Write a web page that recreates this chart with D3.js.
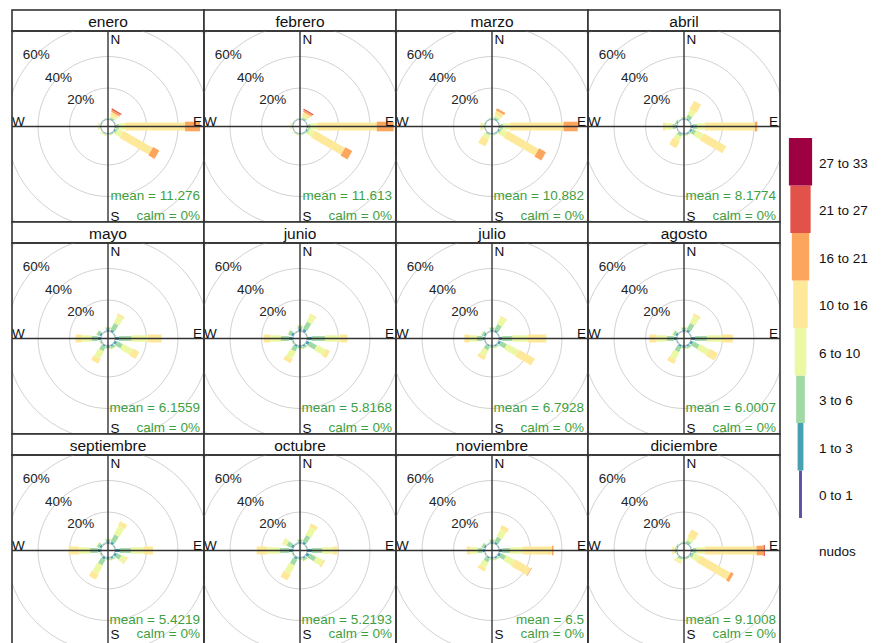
<!DOCTYPE html>
<html>
<head>
<meta charset="utf-8">
<script src="https://cdn.jsdelivr.net/npm/d3@7"></script>
<style>
  body { margin: 0; background: #fff; }
  svg { display: block; font-family: "Liberation Sans", Arial, sans-serif; }
</style>
</head>
<body>
<svg id="chart" width="881" height="643"></svg>
<script>
// Monthly wind roses: frequency (%) of wind per direction and speed interval (knots)
const months = ["enero", "febrero", "marzo", "abril", "mayo", "junio",
                "julio", "agosto", "septiembre", "octubre", "noviembre", "diciembre"];
const directions = [0, 30, 60, 90, 120, 150, 180, 210, 240, 270, 300, 330];
const speedBins = ["0 to 1", "1 to 3", "3 to 6", "6 to 10", "10 to 16", "16 to 21", "21 to 27", "27 to 33"];
const speedUnit = "nudos";
const meanSpeed = ["11.276", "11.613", "10.882", "8.1774", "6.1559", "5.8168",
                   "6.7928", "6.0007", "5.4219", "5.2193", "6.5", "9.1008"];
const calmPct = [0, 0, 0, 0, 0, 0, 0, 0, 0, 0, 0, 0];
const ringTicks = [20, 40, 60, 80];
const ringLabels = [20, 40, 60];
const compass = ["N", "E", "S", "W"];

// one row per direction (0°, 30°, ... 330°), one value per speed interval
const enero = [
  [0.1, 0.3, 0.3, 0.2], [0.1, 0.5, 0.9, 1.2, 2.0, 1.3, 0.8], [0.1, 0.3, 0.2],
  [0.1, 0.9, 1.5, 4.0, 38.0, 9.5], [0.1, 0.6, 1.2, 3.5, 21.5, 4.5], [0.1, 0.4, 0.5, 0.3],
  [0.1, 0.3, 0.2], [0.1, 0.3, 0.4, 0.5, 0.3], [0.1, 0.2, 0.2],
  [0.1, 0.3, 0.5, 0.8, 0.3], [0.1, 0.3, 0.2], [0.1, 0.3, 0.3]
];
const febrero = [
  [0.1, 0.3, 0.3, 0.2], [0.1, 0.5, 0.9, 1.1, 2.0, 1.2, 0.8], [0.1, 0.2, 0.2],
  [0.1, 0.8, 1.4, 4.0, 38.0, 10.7], [0.1, 0.6, 1.1, 3.3, 22.0, 5.0], [0.1, 0.4, 0.4, 0.2],
  [0.1, 0.3, 0.2], [0.1, 0.3, 0.4, 0.4, 0.2], [0.1, 0.2, 0.1],
  [0.1, 0.3, 0.4, 0.6, 0.2], [0.1, 0.3, 0.2], [0.1, 0.3, 0.3]
];
const marzo = [
  [0.1, 0.4, 0.4, 0.2], [0.1, 0.6, 1.0, 1.5, 2.5, 1.5], [0.1, 0.3, 0.2],
  [0.1, 0.9, 1.5, 4.5, 34.0, 9.0], [0.1, 0.6, 1.2, 3.5, 23.0, 5.0], [0.1, 0.4, 0.5, 0.3],
  [0.1, 0.3, 0.3, 0.1], [0.1, 0.4, 0.8, 2.5, 5.0], [0.1, 0.2, 0.2],
  [0.1, 0.3, 0.5, 1.0, 1.0], [0.1, 0.3, 0.2], [0.1, 0.3, 0.3]
];
const abril = [
  [0.1, 0.6, 0.6, 0.3], [0.1, 0.8, 2.5, 3.5, 6.0], [0.1, 0.3, 0.2],
  [0.1, 1.2, 2.5, 5.0, 31.8, 1.5], [0.1, 1.0, 2.5, 5.0, 16.5], [0.1, 0.6, 0.6, 0.3],
  [0.1, 0.5, 0.5, 0.2], [0.1, 0.5, 1.5, 3.0, 5.0], [0.1, 0.2, 0.2],
  [0.1, 0.8, 2.0, 4.5, 1.5], [0.1, 0.6, 0.8, 0.2], [0.1, 0.3, 0.3]
];
const mayo = [
  [0.1, 1.2, 1.3, 0.4], [0.1, 1.5, 4.5, 5.0, 1.5], [0.1, 0.3, 0.3],
  [0.1, 2.5, 8.0, 10.0, 9.0], [0.1, 1.5, 4.0, 7.0, 4.5], [0.1, 1.0, 1.2, 0.5],
  [0.1, 0.8, 0.8, 0.3], [0.1, 1.0, 3.0, 5.0, 3.5], [0.1, 0.4, 0.5, 0.2],
  [0.1, 2.0, 4.0, 6.0, 4.0], [0.1, 1.2, 1.8, 0.4], [0.1, 0.3, 0.3]
];
const junio = [
  [0.1, 1.5, 1.8, 0.6], [0.1, 2.0, 5.0, 4.5, 1.0], [0.1, 0.3, 0.3],
  [0.1, 3.0, 8.5, 9.5, 4.5], [0.1, 2.0, 5.0, 6.0, 3.0], [0.1, 0.9, 1.1, 0.4],
  [0.1, 0.8, 1.0, 0.4], [0.1, 1.2, 3.0, 5.0, 3.0], [0.1, 0.4, 0.5, 0.2],
  [0.1, 2.5, 5.0, 7.0, 4.0], [0.1, 1.5, 1.8, 0.5], [0.1, 0.3, 0.3]
];
const julio = [
  [0.1, 1.0, 1.3, 0.4], [0.1, 1.2, 4.0, 4.5, 1.0], [0.1, 0.3, 0.2],
  [0.1, 2.0, 6.5, 9.5, 12.0], [0.1, 1.5, 4.0, 8.5, 11.5], [0.1, 0.7, 0.8, 0.3],
  [0.1, 0.6, 0.7, 0.3], [0.1, 0.8, 2.5, 4.0, 2.5], [0.1, 0.3, 0.3],
  [0.1, 1.5, 3.5, 5.0, 3.0], [0.1, 1.0, 1.3, 0.4], [0.1, 0.3, 0.2]
];
const agosto = [
  [0.1, 1.0, 1.4, 0.5], [0.1, 1.5, 4.5, 5.0, 1.5], [0.1, 0.3, 0.2],
  [0.1, 2.5, 7.5, 9.0, 7.5], [0.1, 1.5, 4.5, 7.0, 6.0], [0.1, 1.0, 1.1, 0.4],
  [0.1, 0.8, 0.9, 0.3], [0.1, 1.2, 3.5, 5.0, 3.0], [0.1, 0.3, 0.4],
  [0.1, 2.0, 4.5, 6.5, 4.5], [0.1, 1.2, 1.6, 0.5], [0.1, 0.3, 0.2]
];
const septiembre = [
  [0.1, 1.3, 1.3, 0.4], [0.1, 1.5, 5.0, 6.0, 3.0], [0.1, 0.3, 0.3],
  [0.1, 3.0, 7.0, 8.0, 6.0], [0.1, 1.5, 3.0, 3.0, 1.0], [0.1, 0.9, 0.9, 0.3],
  [0.1, 0.7, 0.6, 0.2], [0.1, 1.5, 4.0, 6.0, 4.0], [0.1, 0.4, 0.5, 0.2],
  [0.1, 2.0, 5.0, 7.0, 6.5], [0.1, 1.2, 1.5, 0.5], [0.1, 0.4, 0.4]
];
const octubre = [
  [0.1, 1.2, 1.2, 0.4], [0.1, 1.5, 4.5, 5.5, 2.5], [0.1, 0.3, 0.3],
  [0.1, 3.0, 6.5, 6.5, 3.5], [0.1, 2.0, 4.5, 4.5, 1.5], [0.1, 1.0, 1.2, 0.5],
  [0.1, 0.6, 0.6, 0.2], [0.1, 1.5, 4.0, 6.0, 4.5], [0.1, 0.4, 0.5, 0.2],
  [0.1, 2.5, 6.0, 8.0, 6.5], [0.1, 1.5, 3.0, 2.5, 0.5], [0.1, 0.4, 0.4]
];
const noviembre = [
  [0.1, 1.0, 1.2, 0.4], [0.1, 1.2, 3.5, 5.0, 3.0], [0.1, 0.3, 0.2],
  [0.1, 2.0, 5.0, 8.0, 18.5, 1.0], [0.1, 1.5, 3.5, 6.0, 11.5, 0.5], [0.1, 0.8, 0.8, 0.3],
  [0.1, 0.6, 0.6, 0.2], [0.1, 0.8, 2.5, 4.0, 2.0], [0.1, 0.3, 0.3],
  [0.1, 1.5, 3.0, 4.5, 2.5], [0.1, 1.0, 1.3, 0.4], [0.1, 0.3, 0.3]
];
const diciembre = [
  [0.1, 0.4, 0.5, 0.2], [0.1, 0.5, 1.5, 2.5, 5.0], [0.1, 0.3, 0.2],
  [0.1, 1.0, 2.5, 5.0, 33.0, 4.5, 0.8], [0.1, 0.6, 1.5, 4.0, 22.0, 2.0], [0.1, 0.5, 0.5, 0.2],
  [0.1, 0.4, 0.4, 0.2], [0.1, 0.4, 1.0, 1.5, 1.0], [0.1, 0.3, 0.2],
  [0.1, 0.4, 0.8, 1.2, 0.5], [0.1, 0.5, 0.5, 0.2], [0.1, 0.3, 0.3]
];
const freqByMonth = [enero, febrero, marzo, abril, mayo, junio,
                     julio, agosto, septiembre, octubre, noviembre, diciembre];

// ---- layout ----
const width = 881, height = 643;
const svg = d3.select("#chart");
const cols = 4, originX = 12, originY = 10;
const panelW = 192, stripH = 21, plotH = 191, panelH = stripH + plotH;
const frameCol = "#333";
const statCol = "#3f9f3f";

// radial scale: 0 % starts at the calm circle
const rScale = d3.scaleLinear().domain([0, 60]).range([7, 101.5]);
const spectral = ["#5E4FA2", "#3288BD", "#66C2A5", "#ABDDA4", "#E6F598", "#FFFFBF",
                  "#FEE08B", "#FDAE61", "#F46D43", "#D53E4F", "#9E0142"];
const colour = d3.scaleOrdinal()
  .domain(d3.range(speedBins.length))
  .range(d3.quantize(d3.piecewise(d3.interpolateRgb, spectral), speedBins.length));
const paddleW = d3.scaleLinear().domain([0, 7]).range([1.6, 12.8]);
const rad = d3.scaleLinear().domain([0, 360]).range([0, 2 * Math.PI]);

const stack = d3.stack()
  .keys(d3.range(speedBins.length))
  .value((row, k) => row[k] || 0);

function paddlePath(dirDeg, p0, p1, w) {
  const a = rad(dirDeg), s = Math.sin(a), c = Math.cos(a);
  const r0 = rScale(p0), r1 = rScale(p1), h = w / 2;
  const path = d3.path();
  path.moveTo(r0 * s - h * c, -r0 * c - h * s);
  path.lineTo(r1 * s - h * c, -r1 * c - h * s);
  path.lineTo(r1 * s + h * c, -r1 * c + h * s);
  path.lineTo(r0 * s + h * c, -r0 * c + h * s);
  path.closePath();
  return path.toString();
}

const defs = svg.append("defs");

months.forEach((name, m) => {
  const px = originX + (m % cols) * panelW;
  const py = originY + Math.floor(m / cols) * panelH;
  const g = svg.append("g").attr("transform", `translate(${px},${py})`);
  // lowest visible line of the panel (the last row runs to the page edge)
  const bottom = Math.min(stripH + plotH, height - 3 - py);

  // strip
  g.append("rect").attr("width", panelW).attr("height", stripH)
    .attr("fill", "#fff").attr("stroke", frameCol).attr("stroke-width", 1.6);
  g.append("text").attr("x", panelW / 2).attr("y", stripH / 2 + 1)
    .attr("text-anchor", "middle").attr("dominant-baseline", "central")
    .attr("font-size", 15.5).attr("fill", "#111").text(name);

  const clipId = "clip-" + m;
  defs.append("clipPath").attr("id", clipId)
    .append("rect").attr("x", 0).attr("y", stripH).attr("width", panelW).attr("height", plotH);

  const cx = panelW / 2, cy = stripH + plotH / 2;
  const plot = g.append("g").attr("clip-path", `url(#${clipId})`);
  const rose = plot.append("g").attr("transform", `translate(${cx},${cy})`);

  // grid rings
  rose.selectAll("circle.ring").data(ringTicks).join("circle")
    .attr("class", "ring").attr("r", d => rScale(d))
    .attr("fill", "none").attr("stroke", "#d2d2d2").attr("stroke-width", 1);
  rose.append("circle").attr("r", rScale(0))
    .attr("fill", "none").attr("stroke", "#c4c4c4").attr("stroke-width", 1);

  // paddles, stacked by speed interval
  const series = stack(freqByMonth[m]);
  series.forEach((s, k) => {
    rose.append("g").selectAll("path")
      .data(s.map((d, j) => ({ dir: directions[j], p0: d[0], p1: d[1] }))
        .filter(d => d.p1 - d.p0 > 0))
      .join("path")
      .attr("d", d => paddlePath(d.dir, d.p0, d.p1, paddleW(k)))
      .attr("fill", colour(k));
  });

  // axes through the centre
  plot.append("line").attr("x1", 0).attr("x2", panelW).attr("y1", cy).attr("y2", cy)
    .attr("stroke", frameCol).attr("stroke-width", 1.4);
  plot.append("line").attr("x1", cx).attr("x2", cx).attr("y1", stripH).attr("y2", stripH + plotH)
    .attr("stroke", frameCol).attr("stroke-width", 1.4);

  // ring labels along the NW diagonal
  rose.selectAll("text.ringlab").data(ringLabels).join("text")
    .attr("class", "ringlab")
    .attr("x", d => -rScale(d) * Math.sin(rad(45)))
    .attr("y", d => -rScale(d) * Math.cos(rad(45)))
    .attr("text-anchor", "middle").attr("dominant-baseline", "central")
    .attr("font-size", 13.5).attr("fill", "#222").text(d => d + "%");

  // compass letters
  const fs = 13.5;
  g.append("text").attr("x", cx + 2.5).attr("y", stripH + 13).attr("font-size", fs)
    .attr("fill", "#111").text(compass[0]);
  g.append("text").attr("x", panelW - 2).attr("y", cy - 0.5).attr("text-anchor", "end")
    .attr("font-size", fs).attr("fill", "#111").text(compass[1]);
  g.append("text").attr("x", cx + 2.5).attr("y", bottom - 1.5).attr("font-size", fs)
    .attr("fill", "#111").text(compass[2]);
  g.append("text").attr("x", 0).attr("y", cy - 0.5).attr("font-size", fs)
    .attr("fill", "#111").text(compass[3]);

  // statistics
  g.append("text").attr("x", panelW - 4).attr("y", stripH + plotH - 22)
    .attr("text-anchor", "end").attr("font-size", 13.5).attr("fill", statCol)
    .text("mean = " + meanSpeed[m]);
  g.append("text").attr("x", panelW - 4).attr("y", bottom - 2)
    .attr("text-anchor", "end").attr("font-size", 13.5).attr("fill", statCol)
    .text("calm = " + calmPct[m] + "%");

  // panel frame
  g.append("rect").attr("y", stripH).attr("width", panelW).attr("height", plotH)
    .attr("fill", "none").attr("stroke", frameCol).attr("stroke-width", 1.6);
});

// ---- legend ----
const legendX = 800.5;
const yLeg = d3.scaleBand().domain(d3.range(speedBins.length).reverse()).range([138, 518]);
const legendW = d3.scaleLinear().domain([0, 7]).range([2.9, 23.2]);
const leg = svg.append("g");
leg.selectAll("rect").data(d3.range(speedBins.length)).join("rect")
  .attr("x", k => legendX - legendW(k) / 2)
  .attr("y", k => yLeg(k))
  .attr("width", k => legendW(k))
  .attr("height", yLeg.bandwidth())
  .attr("fill", k => colour(k));
leg.selectAll("text").data(d3.range(speedBins.length)).join("text")
  .attr("x", 819).attr("y", k => yLeg(k) + yLeg.bandwidth() / 2 + 1.5)
  .attr("dominant-baseline", "central").attr("font-size", 13.5).attr("fill", "#111")
  .text(k => speedBins[k]);
leg.append("text").attr("x", 819).attr("y", 551).attr("dominant-baseline", "central")
  .attr("font-size", 13.5).attr("fill", "#111").text(speedUnit);
</script>
</body>
</html>
